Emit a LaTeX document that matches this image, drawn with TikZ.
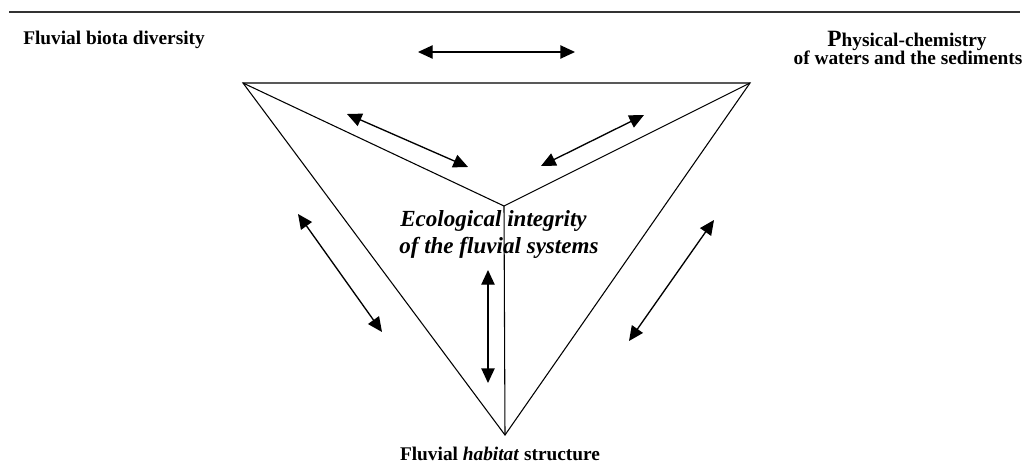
\documentclass[tikz,border=0pt]{standalone}
\usepackage{fontspec}
\setmainfont{Liberation Serif}
\usetikzlibrary{arrows.meta}
\begin{document}
\begin{tikzpicture}[x=0.75pt,y=-0.75pt,
  edge/.style={line width=0.8pt,line join=miter},
  dbl/.style={line width=1pt,{Triangle[length=11pt,width=10pt]}-{Triangle[length=11pt,width=10pt]}},
  lbl/.style={inner sep=0pt,font=\fontsize{14.5}{17}\selectfont\bfseries},
  big/.style={inner sep=0pt,font=\fontsize{17.3}{20}\selectfont\bfseries\itshape}]
\useasboundingbox (0,0) rectangle (1029,464);
% top rule
\coordinate (r1) at (9,12);
\coordinate (r2) at (1020,12);
\draw[line width=1.3pt,black!80] (r1) -- (r2);
% triangle
\coordinate (tl) at (243,83);
\coordinate (tr) at (750,83);
\coordinate (c) at (504,206);
\coordinate (b) at (505,435);
\draw[edge] (tl) -- (tr) -- (b) -- cycle;
\draw[edge] (tl) -- (c) -- (tr);
\draw[edge] (c) -- (b);
% arrows
\coordinate (a1) at (418,52);  \coordinate (a2) at (575,52);
\coordinate (b1) at (347,114); \coordinate (b2) at (468,167);
\coordinate (c1) at (541,166); \coordinate (c2) at (644,115);
\coordinate (d1) at (488,270); \coordinate (d2) at (488,383);
\coordinate (e1) at (298,214); \coordinate (e2) at (382,332);
\coordinate (f1) at (714,220); \coordinate (f2) at (629,341);
\draw[dbl] (a1) -- (a2);
\draw[dbl] (b1) -- (b2);
\draw[dbl] (c1) -- (c2);
\draw[dbl] (d1) -- (d2);
\draw[dbl] (e1) -- (e2);
\draw[dbl] (f1) -- (f2);
% labels
\node[lbl,anchor=base west] (biota) at (23,45) {Fluvial biota diversity};
\node[lbl,anchor=base] (phys1) at (907,46) {{\fontsize{17.5}{17}\selectfont P}hysical-chemistry};
\node[lbl,anchor=base] (phys2) at (908,64) {of waters and the sediments};
\node[big,anchor=base west] (eco1) at (400,226) {Ecological integrity};
\node[big,anchor=base west] (eco2) at (399,253) {of the fluvial systems};
\node[lbl,anchor=base] (hab) at (500,460) {Fluvial \textit{habitat} structure};
\end{tikzpicture}
\end{document}
